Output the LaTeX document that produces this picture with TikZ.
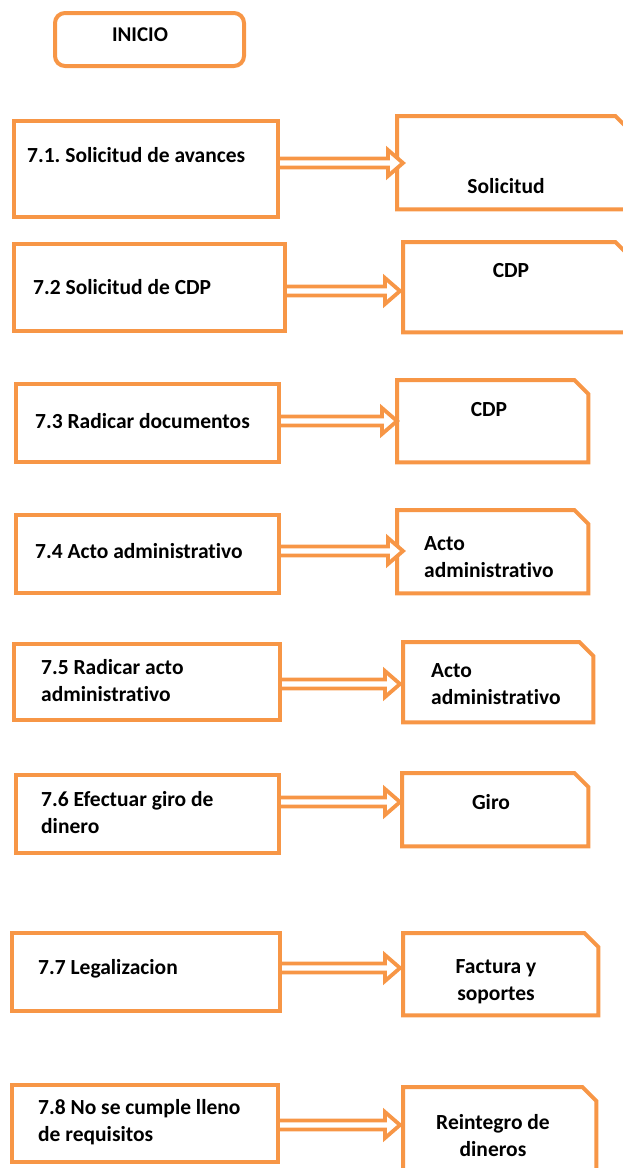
\documentclass[tikz,border=0pt]{standalone}
\usepackage{fontspec}
\setmainfont{Carlito}[Ligatures=NoCommon]
\frenchspacing
\usetikzlibrary{calc}
\definecolor{og}{HTML}{F79646}
\begin{document}
\begin{tikzpicture}[x=1pt,y=1pt,
  lbox/.style={draw=og, line width=4pt, fill=white, anchor=north west, inner sep=0pt},
  rbox/.style={draw=none, anchor=north west, inner sep=0pt},
  docline/.style={draw=og, line width=4pt, fill=white, line join=miter},
  txt/.style={font=\fontsize{21.5}{27}\selectfont\bfseries, text=black, inner sep=0pt, align=left},
  ctxt/.style={font=\fontsize{21.5}{27}\selectfont\bfseries, text=black, inner sep=0pt, align=center},
  arr/.style={draw=og, line width=3.8pt, fill=white, line join=miter}]
\useasboundingbox (0,0) rectangle (623,-1168);
\clip (0,0) rectangle (623,-1168);
\newcommand{\docshape}[1]{\path[docline] (#1.north west) -- ([xshift=-14pt]#1.north east) -- ([yshift=-14pt]#1.north east) -- (#1.south east) -- (#1.south west) -- cycle;}
\newcommand{\blockarr}[2]{\path[arr] ($(#1.east |- #2)+(0,4.5)$) -- ($(#2)+(-15,4.5)$) -- ($(#2)+(-15,13)$) -- (#2) -- ($(#2)+(-15,-13)$) -- ($(#2)+(-15,-4.5)$) -- ($(#1.east |- #2)+(0,-4.5)$);}
% INICIO
\node[draw=og, line width=4pt, rounded corners=10pt, anchor=north west, minimum width=189pt, minimum height=53pt, inner sep=0pt] (ini) at (53,-11) {};
\node[ctxt, font=\fontsize{21}{22}\selectfont\bfseries] (init) at (140,-35) {INICIO};
% row 1
\node[lbox, minimum width=264pt, minimum height=96pt] (l1) at (12,-119) {};
\node[rbox, minimum width=232pt, minimum height=93pt] (r1) at (397,-116) {};
\docshape{r1}
\coordinate (t1) at (403,-163);
\blockarr{l1}{t1}
\node[txt, anchor=west] (l1t) at (27,-155) {7.1. Solicitud de avances};
\node[ctxt] (r1t) at (506,-186) {Solicitud};
% row 2
\node[lbox, minimum width=271pt, minimum height=87pt] (l2) at (12,-242) {};
\node[rbox, minimum width=226pt, minimum height=90pt] (r2) at (403,-242) {};
\docshape{r2}
\coordinate (t2) at (400,-291);
\blockarr{l2}{t2}
\node[txt, anchor=west] (l2t) at (33,-287) {7.2 Solicitud de CDP};
\node[ctxt] (r2t) at (511,-271) {CDP};
% row 3
\node[lbox, minimum width=263pt, minimum height=78pt] (l3) at (14,-382) {};
\node[rbox, minimum width=191pt, minimum height=82pt] (r3) at (397,-380) {};
\docshape{r3}
\coordinate (t3) at (397,-421);
\blockarr{l3}{t3}
\node[txt, anchor=west] (l3t) at (35,-421) {7.3 Radicar documentos};
\node[ctxt] (r3t) at (489,-410) {CDP};
% row 4
\node[lbox, minimum width=263pt, minimum height=78pt] (l4) at (14,-513) {};
\node[rbox, minimum width=191pt, minimum height=83pt] (r4) at (397,-510) {};
\docshape{r4}
\coordinate (t4) at (403,-551);
\blockarr{l4}{t4}
\node[txt, anchor=west] (l4t) at (35,-551) {7.4 Acto administrativo};
\node[txt, anchor=west] (r4t) at (424,-557) {Acto\\administrativo};
% row 5
\node[lbox, minimum width=266pt, minimum height=76pt] (l5) at (12,-642) {};
\node[rbox, minimum width=190pt, minimum height=80pt] (r5) at (403,-642) {};
\docshape{r5}
\coordinate (t5) at (400,-684);
\blockarr{l5}{t5}
\node[txt, anchor=west] (l5t) at (41,-681) {7.5 Radicar acto\\administrativo};
\node[txt, anchor=west] (r5t) at (431,-684) {Acto\\administrativo};
% row 6
\node[lbox, minimum width=263pt, minimum height=78pt] (l6) at (14,-773) {};
\node[rbox, minimum width=186pt, minimum height=73pt] (r6) at (402,-773) {};
\docshape{r6}
\coordinate (t6) at (400,-802);
\blockarr{l6}{t6}
\node[txt, anchor=west] (l6t) at (41,-813) {7.6 Efectuar giro de\\dinero};
\node[ctxt] (r6t) at (491,-802) {Giro};
% row 7
\node[lbox, minimum width=268pt, minimum height=78pt] (l7) at (10,-931) {};
\node[rbox, minimum width=195pt, minimum height=82pt] (r7) at (403,-933) {};
\docshape{r7}
\coordinate (t7) at (400,-968);
\blockarr{l7}{t7}
\node[txt, anchor=west] (l7t) at (38,-969) {7.7 Legalizacion};
\node[ctxt] (r7t) at (496,-982) {Factura y\\soportes};
% row 8
\node[lbox, minimum width=266pt, minimum height=77pt] (l8) at (10,-1083) {};
\node[rbox, minimum width=193pt, minimum height=90pt] (r8) at (403,-1087) {};
\docshape{r8}
\coordinate (t8) at (400,-1125);
\blockarr{l8}{t8}
\node[txt, anchor=west] (l8t) at (38,-1122) {7.8 No se cumple lleno\\de requisitos};
\node[ctxt] (r8t) at (493,-1136) {Reintegro de\\dineros};
\end{tikzpicture}
\end{document}
